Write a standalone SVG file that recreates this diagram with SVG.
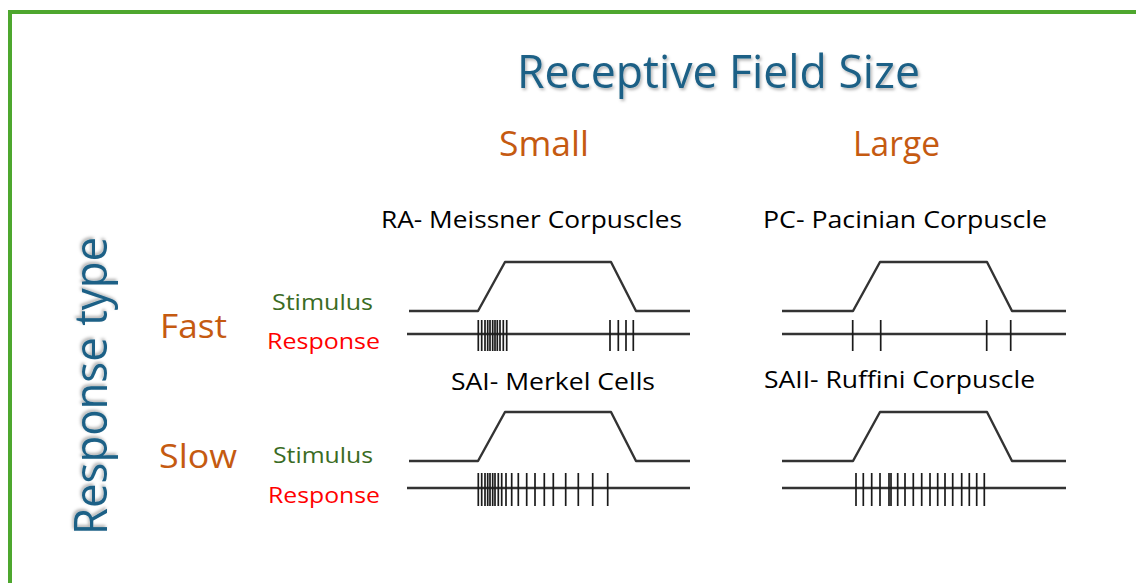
<svg xmlns="http://www.w3.org/2000/svg" width="1136" height="583" viewBox="0 0 1136 583">
  <defs>
    <filter id="shadow" x="-10%" y="-20%" width="120%" height="140%">
      <feDropShadow dx="1.5" dy="2" stdDeviation="1.5" flood-color="#000" flood-opacity="0.3"/>
    </filter>
    <filter id="shadowV" x="-30%" y="-10%" width="160%" height="120%">
      <feDropShadow dx="2" dy="-1.5" stdDeviation="1.5" flood-color="#000" flood-opacity="0.3"/>
    </filter>
  </defs>
  <style>
    text { font-family: "Open Sans", "Liberation Sans", sans-serif; }
    .axis { fill: #1d6186; font-size: 45px; }
    .size { fill: #c55a11; font-size: 34px; }
    .speed { fill: #c55a11; font-size: 33px; }
    .name { fill: #000; font-size: 24px; }
    .stim { fill: #3a6b23; font-size: 22px; }
    .resp { fill: #ff0000; font-size: 22px; }
    .trace { fill: none; stroke: #333; stroke-width: 2.4; stroke-linejoin: round; }
    .spike { stroke: #1a1a1a; stroke-width: 1.7; }
  </style>

  <!-- frame -->
  <rect x="10" y="12" width="1140" height="590" fill="none" stroke="#4ea72e" stroke-width="4"/>

  <!-- axis titles -->
  <g id="title-receptive-field">
    <text class="axis" x="517" y="88" textLength="403" lengthAdjust="spacingAndGlyphs" filter="url(#shadow)">Receptive Field Size</text>
  </g>
  <g id="title-response-type">
    <text class="axis" transform="translate(107 535) rotate(-90)" textLength="298" lengthAdjust="spacingAndGlyphs" filter="url(#shadowV)">Response type</text>
  </g>

  <!-- column headers -->
  <g id="col-small"><text class="size" x="499" y="156" textLength="90" lengthAdjust="spacingAndGlyphs">Small</text></g>
  <g id="col-large"><text class="size" x="853" y="156" textLength="87" lengthAdjust="spacingAndGlyphs">Large</text></g>

  <!-- row headers -->
  <g id="row-fast">
    <text class="speed" x="160" y="338" textLength="67" lengthAdjust="spacingAndGlyphs">Fast</text>
    <text class="stim" x="272" y="310" textLength="101" lengthAdjust="spacingAndGlyphs">Stimulus</text>
    <text class="resp" x="267" y="349" textLength="113" lengthAdjust="spacingAndGlyphs">Response</text>
  </g>
  <g id="row-slow">
    <text class="speed" x="159" y="468" textLength="78" lengthAdjust="spacingAndGlyphs">Slow</text>
    <text class="stim" x="273" y="463" textLength="100" lengthAdjust="spacingAndGlyphs">Stimulus</text>
    <text class="resp" x="268" y="503" textLength="112" lengthAdjust="spacingAndGlyphs">Response</text>
  </g>

  <!-- RA: Meissner corpuscles (small field, fast) -->
  <g id="ra-meissner">
    <text class="name" x="381" y="228" textLength="301" lengthAdjust="spacingAndGlyphs">RA- Meissner Corpuscles</text>
    <polyline class="trace" points="409,311 478,311 505,262 611,262 636,311 690,311"/>
    <line class="trace" x1="407" y1="334" x2="690" y2="334"/>
    <g class="spike">
      <line x1="478.3" y1="320" x2="478.3" y2="351"/>
      <line x1="481.7" y1="320" x2="481.7" y2="351"/>
      <line x1="485" y1="320" x2="485" y2="351"/>
      <line x1="487.7" y1="320" x2="487.7" y2="351"/>
      <line x1="490" y1="320" x2="490" y2="351"/>
      <line x1="492.7" y1="320" x2="492.7" y2="351"/>
      <line x1="495" y1="320" x2="495" y2="351"/>
      <line x1="497.3" y1="320" x2="497.3" y2="351"/>
      <line x1="500" y1="320" x2="500" y2="351"/>
      <line x1="503.3" y1="320" x2="503.3" y2="351"/>
      <line x1="506.7" y1="320" x2="506.7" y2="351"/>
      <line x1="610" y1="320" x2="610" y2="351"/>
      <line x1="618.3" y1="320" x2="618.3" y2="351"/>
      <line x1="626" y1="320" x2="626" y2="351"/>
      <line x1="633.3" y1="320" x2="633.3" y2="351"/>
    </g>
  </g>

  <!-- PC: Pacinian corpuscle (large field, fast) -->
  <g id="pc-pacinian">
    <text class="name" x="763" y="228" textLength="284" lengthAdjust="spacingAndGlyphs">PC- Pacinian Corpuscle</text>
    <polyline class="trace" points="782,311 853,311 880,262 987,262 1012,311 1066,311"/>
    <line class="trace" x1="782" y1="334" x2="1066" y2="334"/>
    <g class="spike">
      <line x1="852.7" y1="320" x2="852.7" y2="351"/>
      <line x1="880.7" y1="320" x2="880.7" y2="351"/>
      <line x1="986.7" y1="320" x2="986.7" y2="351"/>
      <line x1="1010.7" y1="320" x2="1010.7" y2="351"/>
    </g>
  </g>

  <!-- SAI: Merkel cells (small field, slow) -->
  <g id="sai-merkel">
    <text class="name" x="451" y="390" textLength="204" lengthAdjust="spacingAndGlyphs">SAI- Merkel Cells</text>
    <polyline class="trace" points="409,461 478,461 505,412 611,412 636,461 690,461"/>
    <line class="trace" x1="407" y1="488" x2="690" y2="488"/>
    <g class="spike">
      <line x1="478.3" y1="473" x2="478.3" y2="506"/>
      <line x1="481.7" y1="473" x2="481.7" y2="506"/>
      <line x1="485" y1="473" x2="485" y2="506"/>
      <line x1="487.7" y1="473" x2="487.7" y2="506"/>
      <line x1="490" y1="473" x2="490" y2="506"/>
      <line x1="492.7" y1="473" x2="492.7" y2="506"/>
      <line x1="495" y1="473" x2="495" y2="506"/>
      <line x1="498.3" y1="473" x2="498.3" y2="506"/>
      <line x1="501.7" y1="473" x2="501.7" y2="506"/>
      <line x1="506" y1="473" x2="506" y2="506"/>
      <line x1="511.7" y1="473" x2="511.7" y2="506"/>
      <line x1="518.3" y1="473" x2="518.3" y2="506"/>
      <line x1="526.7" y1="473" x2="526.7" y2="506"/>
      <line x1="535" y1="473" x2="535" y2="506"/>
      <line x1="544.3" y1="473" x2="544.3" y2="506"/>
      <line x1="553.3" y1="473" x2="553.3" y2="506"/>
      <line x1="565.7" y1="473" x2="565.7" y2="506"/>
      <line x1="578.3" y1="473" x2="578.3" y2="506"/>
      <line x1="592.7" y1="473" x2="592.7" y2="506"/>
      <line x1="607.7" y1="473" x2="607.7" y2="506"/>
    </g>
  </g>

  <!-- SAII: Ruffini corpuscle (large field, slow) -->
  <g id="saii-ruffini">
    <text class="name" x="764" y="388" textLength="271" lengthAdjust="spacingAndGlyphs">SAII- Ruffini Corpuscle</text>
    <polyline class="trace" points="782,461 853,461 880,412 987,412 1012,461 1066,461"/>
    <line class="trace" x1="782" y1="488" x2="1066" y2="488"/>
    <g class="spike">
      <line x1="856" y1="473" x2="856" y2="506"/>
      <line x1="863.3" y1="473" x2="863.3" y2="506"/>
      <line x1="871.7" y1="473" x2="871.7" y2="506"/>
      <line x1="880" y1="473" x2="880" y2="506"/>
      <line x1="889" y1="473" x2="889" y2="506"/>
      <line x1="891" y1="473" x2="891" y2="506"/>
      <line x1="897.7" y1="473" x2="897.7" y2="506"/>
      <line x1="905" y1="473" x2="905" y2="506"/>
      <line x1="913.3" y1="473" x2="913.3" y2="506"/>
      <line x1="921.7" y1="473" x2="921.7" y2="506"/>
      <line x1="930" y1="473" x2="930" y2="506"/>
      <line x1="937.7" y1="473" x2="937.7" y2="506"/>
      <line x1="945" y1="473" x2="945" y2="506"/>
      <line x1="952.7" y1="473" x2="952.7" y2="506"/>
      <line x1="961.7" y1="473" x2="961.7" y2="506"/>
      <line x1="969.3" y1="473" x2="969.3" y2="506"/>
      <line x1="976.7" y1="473" x2="976.7" y2="506"/>
      <line x1="984.3" y1="473" x2="984.3" y2="506"/>
    </g>
  </g>
</svg>
